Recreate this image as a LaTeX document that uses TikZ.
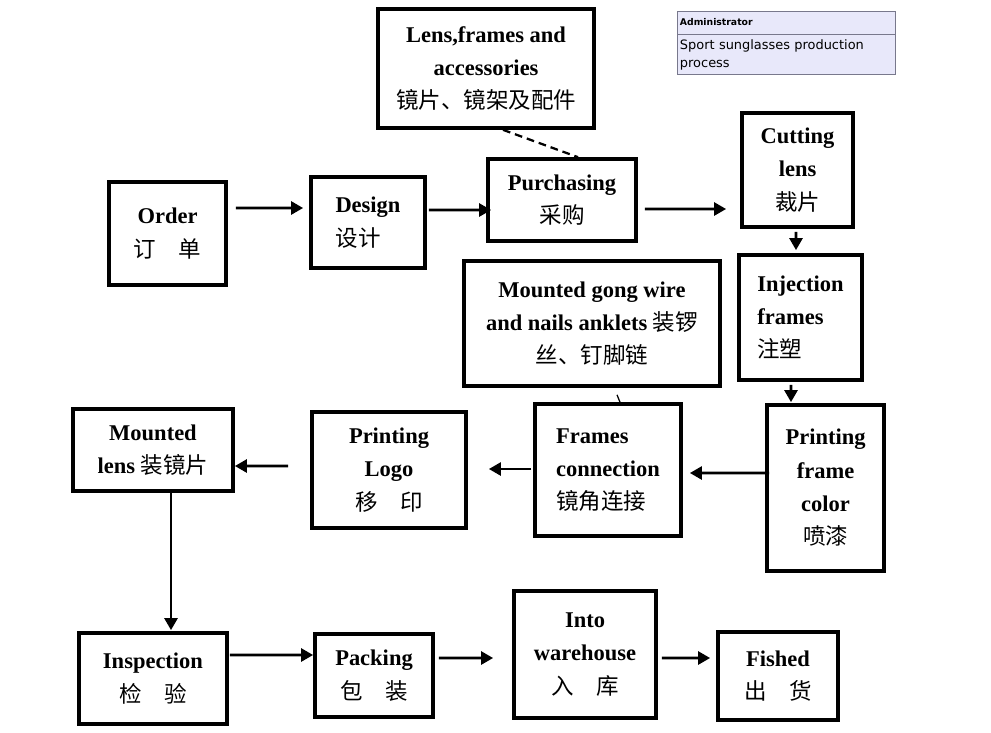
\documentclass[tikz,border=0pt]{standalone}
\usepackage{fontspec}
\setmainfont{Liberation Serif}
\newfontfamily\cjk{Noto Sans CJK SC}
\newfontfamily\admfont{DejaVu Sans}
\usetikzlibrary{positioning,calc,arrows.meta}
\newcommand{\zh}[1]{{\cjk\mdseries #1}}
\definecolor{admfill}{RGB}{232,232,250}
\definecolor{admline}{RGB}{120,120,140}
\tikzset{
  stepnode/.style args={#1,#2}{
  draw=black,
  line width=2.6pt,
  minimum width=#1*0.025cm,
  minimum height=#2*0.025cm,
  inner sep=2pt,
  align=center,
  font=\fontsize{16}{23.7}\selectfont\bfseries
  },
  flow/.style={->,line width=2.1pt},
  admbox/.style={draw=admline,fill=admfill,line width=0.6pt,
   text width=5.3cm,inner xsep=0.075cm,align=left}
}

\begin{document}
\begin{tikzpicture}[x=0.025cm,y=-0.025cm,>={Triangle[length=0.3cm,width=0.32cm]}]
  \useasboundingbox (0,0) rectangle (991,732);

  % top row
  \node [stepnode={117,103}] (order) at (167.5,233.5) {Order\\\zh{订\hspace{1em}单}};
  \node [stepnode={114,91},align=left] (design) at (368,222.5) {Design\\\zh{设计}};
  \node [stepnode={148,82}] (purch) at (562,200) {Purchasing\\\zh{采购}};
  \node [stepnode={216,119}] (supply) at (486,68.5) {Lens,frames and\\accessories\\\zh{镜片、镜架及配件}};
  \node [stepnode={111,114}] (cut) at (797.5,170) {Cutting\\lens\\\zh{裁片}};

  % middle row
  \node [stepnode={123,125},align=left] (inject) at (800.5,317.5) {Injection\\frames\\\zh{注塑}};
  \node [stepnode={256,125}] (gong) at (592,323.5) {Mounted gong wire\\and nails anklets \zh{装锣}\\\zh{丝、钉脚链}};
  \node [stepnode={117,166}] (pcolor) at (825.5,488) {Printing\\frame\\color\\\zh{喷漆}};
  \node [stepnode={146,132},align=left] (fconn) at (608,470) {Frames\\connection\\\zh{镜角连接}};
  \node [stepnode={154,116}] (plogo) at (389,470) {Printing\\Logo\\\zh{移\hspace{1em}印}};
  \node [stepnode={160,82}] (mlens) at (153,450) {Mounted\\lens \zh{装镜片}};

  % bottom row
  \node [stepnode={148,91}] (insp) at (153,678.5) {Inspection\\\zh{检\hspace{1em}验}};
  \node [stepnode={118,83}] (pack) at (374,675.5) {Packing\\\zh{包\hspace{1em}装}};
  \node [stepnode={142,127}] (wareh) at (585,654.5) {Into\\warehouse\\\zh{入\hspace{1em}库}};
  \node [stepnode={120,88}] (fished) at (778,676) {Fished\\\zh{出\hspace{1em}货}};

  % comment box
  \node [admbox,minimum height=0.575cm,font=\admfont\bfseries\fontsize{6.6}{8}\selectfont] (admhead) at (786,22.5) {Administrator};
  \node [admbox,minimum height=1cm,below=0pt of admhead,font=\admfont\fontsize{9.2}{12.8}\selectfont] (admbody) {Sport sunglasses production\\process};

  \draw[flow,shorten <=0.2cm,shorten >=0.15cm] ([yshift=0.6375cm]order.east) -- ([yshift=0.3625cm]design.west);
  \draw[flow,shorten <=0.05cm,shorten >=-0.125cm] ([yshift=0.3125cm]design.east) -- ([yshift=-0.25cm]purch.west);
  \draw[flow,shorten <=0.175cm,shorten >=0.35cm] ([yshift=-0.225cm]purch.east) -- ([yshift=-0.975cm]cut.west);
  \draw[flow,shorten <=0.075cm,shorten >=0.075cm] ([xshift=-0.0375cm]cut.south) -- ([xshift=-0.1125cm]inject.north);
  \draw[flow,shorten <=0.075cm,shorten >=0.025cm] ([xshift=-0.2375cm]inject.south) -- ([xshift=-0.8625cm]pcolor.north);
  \draw[flow,shorten <=-0.1cm,shorten >=0.175cm] ([yshift=0.375cm]pcolor.west) -- ([yshift=-0.075cm]fconn.east);
  \draw[flow,shorten <=0.05cm,shorten >=0.525cm] ([yshift=0.025cm]fconn.west) -- ([yshift=0.025cm]plogo.east);
  \draw[flow,shorten <=0.55cm] ([yshift=0.1cm]plogo.west) -- ([yshift=-0.4cm]mlens.east);
  \draw[flow,shorten >=0.025cm] ([xshift=0.45cm]mlens.south) -- ([xshift=0.45cm]insp.north);
  \draw[flow,shorten <=0.025cm] ([yshift=0.5875cm]insp.east) -- ([yshift=0.5125cm]pack.west);
  \draw[flow,shorten <=0.1cm,shorten >=0.475cm] ([yshift=0.4375cm]pack.east) -- ([yshift=-0.0875cm]wareh.west);
  \draw[flow,shorten <=0.1cm,shorten >=0.15cm] ([yshift=-0.0875cm]wareh.east) -- ([yshift=0.45cm]fished.west);

  \draw[dashed,line width=1.6pt,dash pattern=on 5.5pt off 3.5pt] ([xshift=0.425cm]supply.south) -- ([xshift=0.4cm]purch.north);
  \draw[line width=0.9pt] ([xshift=0.625cm,yshift=-0.175cm]gong.south) -- ([xshift=0.3cm]fconn.north);
\end{tikzpicture}
\end{document}
